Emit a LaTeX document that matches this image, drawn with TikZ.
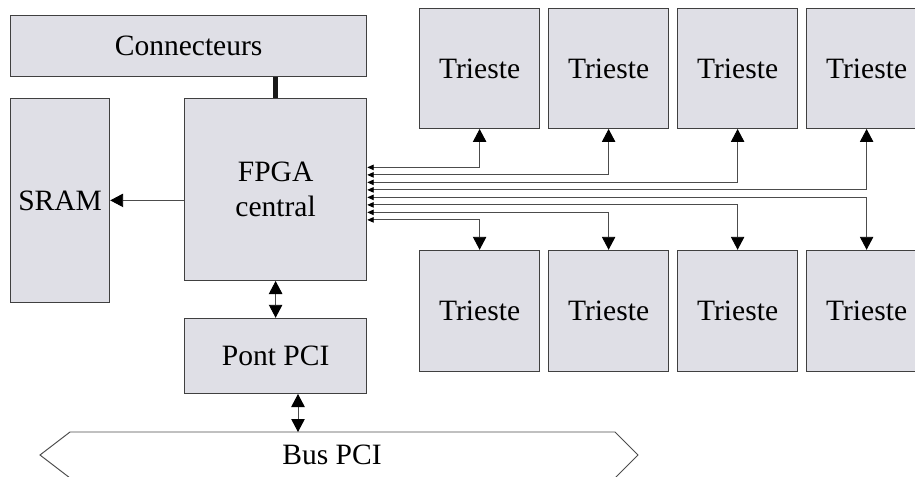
\documentclass[tikz,border=0pt]{standalone}
\usepackage{fontspec}
\setmainfont{Liberation Serif}
\usetikzlibrary{arrows.meta,positioning,calc}

\begin{document}
\begin{tikzpicture}[font=\fontsize{16.8}{19.5}\selectfont]
    \tikzset{blk/.style={draw=black!75, fill=black!10!white!97!blue, line width=0.7pt,
             anchor=south west, align=center, inner sep=0pt},
             tri/.style={blk, minimum width=2.4cm, minimum height=2.4cm},
             link/.style={draw=black!70, line width=0.55pt},
             Big/.tip={Triangle[length=0.26cm,width=0.27cm,color=black]},
             Small/.tip={Triangle[length=0.13cm,width=0.11cm,color=black]}}
    \useasboundingbox (0,0) rectangle (18.3,9.52);
    \clip (0,0) rectangle (18.3,9.52);
    % carte principale
    \node[blk, minimum width=7.12cm, minimum height=1.22cm] (conn) at (0.2,7.98) {Connecteurs};
    \node[blk, minimum width=1.98cm, minimum height=4.08cm] (sram) at (0.2,3.46) {SRAM};
    \node[blk, minimum width=3.64cm, minimum height=3.64cm] (fpga) at (3.68,3.90) {FPGA\\central};
    \node[blk, minimum width=3.64cm, minimum height=1.50cm] (pont) at (3.68,1.64) {Pont PCI};
    % rangee du haut
    \node[tri] (hi1) at (8.38,6.94) {Trieste};
    \node[tri] (hi2) at (10.96,6.94) {Trieste};
    \node[tri] (hi3) at (13.54,6.94) {Trieste};
    \node[tri] (hi4) at (16.12,6.94) {Trieste};
    % rangee du bas
    \node[tri, minimum height=2.42cm] (lo1) at (8.38,2.08) {Trieste};
    \node[tri, minimum height=2.42cm] (lo2) at (10.96,2.08) {Trieste};
    \node[tri, minimum height=2.42cm] (lo3) at (13.54,2.08) {Trieste};
    \node[tri, minimum height=2.42cm] (lo4) at (16.12,2.08) {Trieste};
    % bus PCI
    \draw[link] (1.4,0.88) -- (12.3,0.88) -- (12.76,0.42) -- (12.3,-0.04)
      -- (1.4,-0.04) -- (0.8,0.42) -- cycle;
    \node (bus) at (6.64,0.42) {Bus PCI};
    \coordinate (bustop) at (5.96,0.88);
    % liaisons
    \draw[black!90, line width=0.1cm] (fpga.north) -- (conn.south -| fpga.north);
    \draw[link, -Big] (fpga.west |- sram.east) -- (sram.east);
    \draw[link, Big-Big] (fpga.south) -- (pont.north);
    \draw[link, Big-Big] (pont.south -| bustop) -- (bustop);
    \draw[link, Small-Big] ([yshift=0.44cm]fpga.east) -| (hi1.south);
    \draw[link, Small-Big] ([yshift=0.29cm]fpga.east) -| (hi2.south);
    \draw[link, Small-Big] ([yshift=0.14cm]fpga.east) -| (hi3.south);
    \draw[link, Small-Big] ([yshift=-0.01cm]fpga.east) -| (hi4.south);
    \draw[link, Small-Big] ([yshift=-0.16cm]fpga.east) -| (lo4.north);
    \draw[link, Small-Big] ([yshift=-0.31cm]fpga.east) -| (lo3.north);
    \draw[link, Small-Big] ([yshift=-0.46cm]fpga.east) -| (lo2.north);
    \draw[link, Small-Big] ([yshift=-0.61cm]fpga.east) -| (lo1.north);
  \end{tikzpicture}
\end{document}
